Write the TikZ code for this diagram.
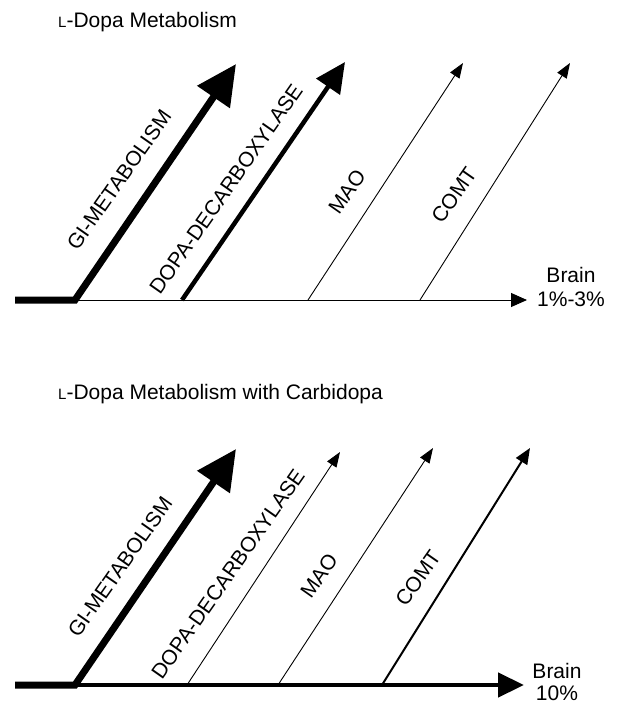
\documentclass[tikz,border=0pt]{standalone}
\usepackage{fontspec}
\setmainfont{Liberation Sans}
\usetikzlibrary{arrows.meta,positioning}

\begin{document}
\begin{tikzpicture}[x=1pt,y=-1pt,
  lab/.style={font=\fontsize{21}{25}\selectfont,inner sep=0pt},
  enz/.style={lab,rotate=55},
  major/.style={line width=7pt,line join=miter,-{Triangle[length=40pt,width=38pt]}},
  medium/.style={line width=4.5pt,-{Triangle[length=30pt,width=28pt]}},
  moderate/.style={line width=2pt,-{Triangle[length=16pt,width=13pt]}},
  minor/.style={line width=0.9pt,-{Triangle[length=15pt,width=11pt]}},
  route/.style={line width=0.9pt,-{Triangle[length=16pt,width=14pt]}},
  mainroute/.style={line width=4.5pt,-{Triangle[length=26pt,width=24pt]}}
]
\useasboundingbox (0,0) rectangle (616,707);

\node[lab,anchor=base west] (titleA) at (58,27) {{\fontsize{15}{15}\selectfont L}-Dopa Metabolism};
\coordinate (startA) at (15,300);
\coordinate (giA) at (75,300);
\coordinate (ddcA) at (182,300);
\coordinate (maoA) at (308,300);
\coordinate (comtA) at (420,300);
\coordinate (endA) at (527,300);
\coordinate (giTipA) at (236,64);
\coordinate (ddcTipA) at (345,62);
\coordinate (maoTipA) at (463,63);
\coordinate (comtTipA) at (570,63);
\draw[route] (giA) -- (endA);
\draw[major] (startA) -- (giA) -- (giTipA);
\draw[medium] (ddcA) -- (ddcTipA);
\draw[minor] (maoA) -- (maoTipA);
\draw[minor] (comtA) -- (comtTipA);
\node[enz] (giLabA) at (119,180) {GI-METABOLISM};
\node[enz] (ddcLabA) at (226,189) {DOPA-DECARBOXYLASE};
\node[enz] (maoLabA) at (347,192) {MAO};
\node[enz] (comtLabA) at (454,195) {COMT};
\node[lab,anchor=base] (brainA) at (571,282) {Brain};
\node[lab,below=9pt of brainA] (pctA) {1\%-3\%};

\node[lab,anchor=base west] (titleB) at (58,399) {{\fontsize{15}{15}\selectfont L}-Dopa Metabolism with Carbidopa};
\coordinate (startB) at (15,685);
\coordinate (giB) at (75,685);
\coordinate (ddcB) at (187,685);
\coordinate (maoB) at (278,685);
\coordinate (comtB) at (382,685);
\coordinate (endB) at (524,685);
\coordinate (giTipB) at (236,449);
\coordinate (ddcTipB) at (340,452);
\coordinate (maoTipB) at (433,448);
\coordinate (comtTipB) at (530,448);
\draw[mainroute] (giB) -- (endB);
\draw[major] (startB) -- (giB) -- (giTipB);
\draw[minor] (ddcB) -- (ddcTipB);
\draw[minor] (maoB) -- (maoTipB);
\draw[moderate] (comtB) -- (comtTipB);
\node[enz] (giLabB) at (120,567) {GI-METABOLISM};
\node[enz] (ddcLabB) at (228,574) {DOPA-DECARBOXYLASE};
\node[enz] (maoLabB) at (319,576) {MAO};
\node[enz] (comtLabB) at (418,578) {COMT};
\node[lab,anchor=base] (brainB) at (557,678) {Brain};
\node[lab,below=7pt of brainB] (pctB) {10\%};
\end{tikzpicture}
\end{document}
